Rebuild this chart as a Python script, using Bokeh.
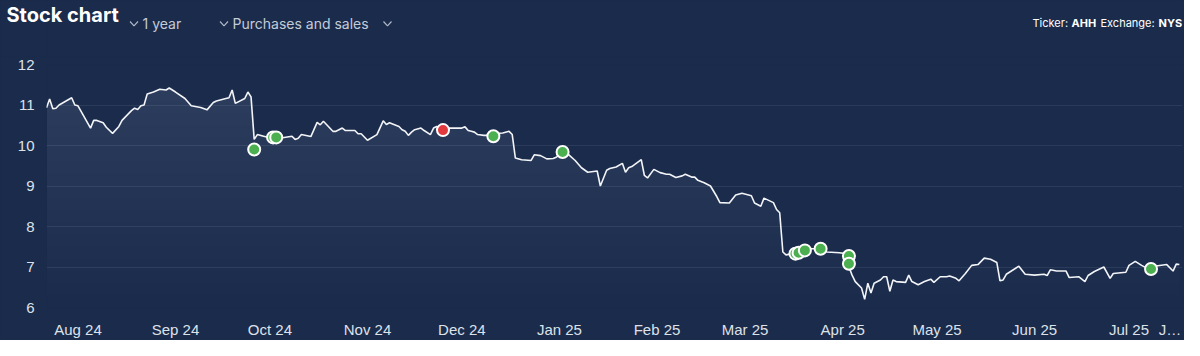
import re
import numpy as np
import pandas as pd
from bokeh.plotting import figure
from bokeh.layouts import column
from bokeh.models import Range1d, FixedTicker, ColumnDataSource
from bokeh.core.properties import value
from bokeh.embed import file_html
from bokeh.resources import INLINE

# ---------------- data ----------------
dates = [
    "2024-07-22", "2024-07-23", "2024-07-24", "2024-07-25", "2024-07-26", "2024-07-30", "2024-07-31",
    "2024-08-01", "2024-08-05", "2024-08-06", "2024-08-07", "2024-08-09", "2024-08-10", "2024-08-12",
    "2024-08-14", "2024-08-15", "2024-08-18", "2024-08-19", "2024-08-20", "2024-08-21", "2024-08-22",
    "2024-08-23", "2024-08-25", "2024-08-27", "2024-08-29", "2024-08-30", "2024-09-01", "2024-09-04",
    "2024-09-06", "2024-09-09", "2024-09-11", "2024-09-13", "2024-09-14", "2024-09-17", "2024-09-18",
    "2024-09-19", "2024-09-20", "2024-09-23", "2024-09-24", "2024-09-25", "2024-09-26", "2024-09-27",
    "2024-09-29", "2024-10-01", "2024-10-03", "2024-10-05", "2024-10-08", "2024-10-09", "2024-10-10",
    "2024-10-11", "2024-10-14", "2024-10-16", "2024-10-17", "2024-10-18", "2024-10-21", "2024-10-22",
    "2024-10-24", "2024-10-25", "2024-10-28", "2024-10-29", "2024-10-30", "2024-11-01", "2024-11-04",
    "2024-11-06", "2024-11-07", "2024-11-08", "2024-11-11", "2024-11-12", "2024-11-13", "2024-11-14",
    "2024-11-15", "2024-11-16", "2024-11-18", "2024-11-19", "2024-11-21", "2024-11-22", "2024-11-23",
    "2024-11-25", "2024-11-27", "2024-12-01", "2024-12-02", "2024-12-03", "2024-12-04", "2024-12-05",
    "2024-12-06", "2024-12-08", "2024-12-10", "2024-12-11", "2024-12-12", "2024-12-14", "2024-12-16",
    "2024-12-17", "2024-12-18", "2024-12-20", "2024-12-23", "2024-12-24", "2024-12-26", "2024-12-28",
    "2024-12-30", "2024-12-31", "2025-01-02", "2025-01-04", "2025-01-06", "2025-01-08", "2025-01-10",
    "2025-01-13", "2025-01-14", "2025-01-16", "2025-01-17", "2025-01-19", "2025-01-21", "2025-01-22",
    "2025-01-23", "2025-01-24", "2025-01-27", "2025-01-28", "2025-01-29", "2025-01-31", "2025-02-02",
    "2025-02-04", "2025-02-05", "2025-02-07", "2025-02-09", "2025-02-10", "2025-02-12", "2025-02-13",
    "2025-02-14", "2025-02-16", "2025-02-18", "2025-02-20", "2025-02-21", "2025-02-24", "2025-02-26",
    "2025-02-28", "2025-03-03", "2025-03-04", "2025-03-06", "2025-03-07", "2025-03-10", "2025-03-11",
    "2025-03-12", "2025-03-13", "2025-03-14", "2025-03-16", "2025-03-17", "2025-03-18", "2025-03-20",
    "2025-03-21", "2025-03-23", "2025-03-25", "2025-03-27", "2025-03-31", "2025-04-02", "2025-04-03",
    "2025-04-04", "2025-04-05", "2025-04-07", "2025-04-08", "2025-04-09", "2025-04-10", "2025-04-11",
    "2025-04-13", "2025-04-14", "2025-04-15", "2025-04-16", "2025-04-17", "2025-04-18", "2025-04-21",
    "2025-04-22", "2025-04-23", "2025-04-25", "2025-04-27", "2025-04-29", "2025-04-30", "2025-05-02",
    "2025-05-04", "2025-05-05", "2025-05-07", "2025-05-08", "2025-05-10", "2025-05-12", "2025-05-14",
    "2025-05-16", "2025-05-18", "2025-05-20", "2025-05-21", "2025-05-22", "2025-05-23", "2025-05-27",
    "2025-05-29", "2025-06-01", "2025-06-04", "2025-06-05", "2025-06-06", "2025-06-08", "2025-06-11",
    "2025-06-12", "2025-06-15", "2025-06-17", "2025-06-18", "2025-06-20", "2025-06-23", "2025-06-25",
    "2025-06-26", "2025-06-30", "2025-07-01", "2025-07-03", "2025-07-05", "2025-07-07", "2025-07-08",
    "2025-07-09", "2025-07-13", "2025-07-15", "2025-07-16", "2025-07-17",
]
prices = [
    10.93, 11.15, 10.91, 10.92, 11.00, 11.18, 11.00,
    10.98, 10.43, 10.62, 10.62, 10.56, 10.45, 10.30,
    10.47, 10.62, 10.86, 10.92, 10.89, 10.98, 11.00,
    11.27, 11.32, 11.39, 11.37, 11.42, 11.32, 11.16,
    10.98, 10.94, 10.88, 11.06, 11.10, 11.16, 11.18,
    11.37, 11.04, 11.16, 11.32, 11.20, 10.15, 10.27,
    10.23, 10.19, 10.19, 10.19, 10.23, 10.15, 10.18,
    10.27, 10.22, 10.57, 10.51, 10.60, 10.35, 10.35,
    10.43, 10.37, 10.37, 10.29, 10.29, 10.13, 10.27,
    10.61, 10.52, 10.56, 10.47, 10.39, 10.35, 10.25,
    10.33, 10.39, 10.43, 10.37, 10.27, 10.43, 10.47,
    10.38, 10.43, 10.43, 10.46, 10.37, 10.35, 10.33,
    10.27, 10.25, 10.25, 10.23, 10.30, 10.31, 10.35,
    10.27, 9.69, 9.65, 9.63, 9.77, 9.75, 9.67,
    9.68, 9.71, 9.84, 9.77, 9.63, 9.45, 9.34,
    9.37, 9.00, 9.39, 9.43, 9.47, 9.56, 9.34,
    9.45, 9.48, 9.65, 9.26, 9.20, 9.41, 9.33,
    9.29, 9.29, 9.21, 9.25, 9.29, 9.22, 9.22,
    9.14, 9.08, 9.00, 8.74, 8.59, 8.58, 8.78,
    8.82, 8.76, 8.58, 8.50, 8.70, 8.59, 8.42,
    8.34, 7.37, 7.30, 7.33, 7.33, 7.35, 7.42,
    7.45, 7.45, 7.43, 7.37, 7.35, 7.33, 7.00,
    6.80, 6.64, 6.48, 6.20, 6.60, 6.36, 6.60,
    6.68, 6.76, 6.76, 6.40, 6.68, 6.64, 6.62,
    6.80, 6.64, 6.56, 6.64, 6.70, 6.62, 6.76,
    6.76, 6.78, 6.72, 6.66, 6.84, 7.04, 7.06,
    7.22, 7.19, 7.11, 6.66, 6.68, 6.82, 7.02,
    6.82, 6.80, 6.82, 6.79, 6.93, 6.90, 6.90,
    6.74, 6.76, 6.64, 6.79, 6.89, 7.00, 6.72,
    6.84, 6.87, 7.04, 7.14, 7.04, 6.96, 6.95,
    7.02, 7.06, 6.90, 7.07, 7.06,
]

buy_dates = ["2024-09-26", "2024-10-02", "2024-10-03", "2024-12-11", "2025-01-02",
             "2025-03-17", "2025-03-18", "2025-03-20", "2025-03-25",
             "2025-04-03", "2025-04-03", "2025-07-08"]
buy_prices = [9.90, 10.20, 10.20, 10.23, 9.84, 7.33, 7.35, 7.41, 7.45, 7.27, 7.08, 6.95]
sell_dates = ["2024-11-25"]
sell_prices = [10.38]

tick_dates = ["2024-08-01", "2024-09-01", "2024-10-01", "2024-11-01", "2024-12-01", "2025-01-01",
              "2025-02-01", "2025-03-01", "2025-04-01", "2025-05-01", "2025-06-01", "2025-07-01",
              "2025-07-14"]
tick_labels = ["Aug 24", "Sep 24", "Oct 24", "Nov 24", "Dec 24", "Jan 25",
               "Feb 25", "Mar 25", "Apr 25", "May 25", "Jun 25", "Jul 25", "J\u2026"]
y_ticks = [6, 7, 8, 9, 10, 11, 12]

title_text = "Stock chart"
period_text = "1 year"
mode_text = "Purchases and sales"
ticker_parts = ["Ticker:", "AHH", "Exchange:", "NYS"]
ticker_styles = ["normal", "bold", "normal", "bold"]

# ---------------- styling ----------------
BG = "#1b2b4b"
GRID = "#2b3b5a"
LABEL = "#dde2ea"
SUB = "#c3cbd8"
GREEN = "#4caf50"
RED = "#e03a3e"


def ms(s):
    return pd.Timestamp(s).value / 1e6


W = 1184
HH = 56            # header height
H = 284            # chart height
FL, FR = 46, 1182  # frame left/right (shared by both figures)
FT, FB = 8, 256    # chart frame top/bottom
HT = 0             # header frame top

# ---------------- header ----------------
hdr = figure(width=W, height=HH, output_backend="svg", toolbar_location=None,
             x_axis_type=None, y_axis_type=None,
             x_range=Range1d(FL, FR), y_range=Range1d(HH, HT),
             min_border_left=FL, min_border_right=W - FR, min_border_top=HT, min_border_bottom=0,
             background_fill_color=BG, border_fill_color=BG, outline_line_color=None)
hdr.grid.visible = False
hdr.title.text = title_text
hdr.title.text_font = "Inter"
hdr.title.text_font_size = "20px"
hdr.title.text_font_style = "bold"
hdr.title.text_color = "white"
hdr.title.align = "left"
hdr.title.offset = 6 - FL
hdr.title.standoff = -52
hdr.styles = {"background-color": BG}

hdr.text(x=[142, 232], y=[22.5, 22.5], text=[period_text, mode_text], text_font=value("Inter"),
         text_font_size="14px", text_color=SUB, text_baseline="middle", text_align="left")
chev_x = [133.5, 223.5, 387]
hdr.multi_line(xs=[[c - 4, c, c + 4] for c in chev_x], ys=[[21, 25.3, 21] for _ in chev_x],
               line_color="#aeb8c8", line_width=1.2)
for txt, style, fx in zip(ticker_parts, ticker_styles, (1032, 1071, 1100, 1158)):
    hdr.text(x=[fx], y=[22], text=[txt], text_font=value("Inter"), text_font_size="11px",
             text_font_style=style, text_color="white", text_baseline="middle", text_align="left")

# ---------------- chart ----------------
x = [ms(d) for d in dates]
x0, x1 = ms("2024-07-22"), ms("2025-07-18")

p = figure(width=W, height=H, output_backend="svg", toolbar_location=None,
           x_range=Range1d(x0, x1), y_range=Range1d(6, 12),
           min_border_left=FL, min_border_right=W - FR, min_border_top=FT, min_border_bottom=H - FB,
           background_fill_color=BG, border_fill_color=BG, outline_line_color=None)
p.styles = {"background-color": BG}

# gradient-like fill under the line
pr = np.array(prices)
for t in np.arange(6.3, 11.45, 0.3):
    p.varea(x=x, y1=np.full(len(x), t), y2=np.maximum(pr, t), fill_color="white", fill_alpha=0.0065)

p.line(x, prices, line_color="#f2f4f7", line_width=1.6)

buy_src = ColumnDataSource(dict(x=[ms(d) for d in buy_dates], y=buy_prices))
sell_src = ColumnDataSource(dict(x=[ms(d) for d in sell_dates], y=sell_prices))
p.scatter("x", "y", source=buy_src, size=12, fill_color=GREEN, line_color="white", line_width=2)
p.scatter("x", "y", source=sell_src, size=12, fill_color=RED, line_color="white", line_width=2)

p.xgrid.grid_line_color = None
p.ygrid.grid_line_color = GRID
p.ygrid.grid_line_width = 1

tick_ms = [ms(d) for d in tick_dates]
p.xaxis.ticker = FixedTicker(ticks=tick_ms)
p.xaxis.major_label_overrides = {t: l for t, l in zip(tick_ms, tick_labels)}
p.yaxis.ticker = FixedTicker(ticks=y_ticks)
p.ygrid.ticker = FixedTicker(ticks=y_ticks)

for ax in (p.xaxis, p.yaxis):
    ax.axis_line_color = None
    ax.major_tick_line_color = None
    ax.minor_tick_line_color = None
    ax.major_tick_out = 0
    ax.major_tick_in = 0
    ax.minor_tick_out = 0
    ax.major_label_text_color = LABEL
    ax.major_label_text_font = "Liberation Sans"
    ax.major_label_text_font_size = "15px"
p.xaxis.major_label_standoff = 13
p.yaxis.major_label_standoff = 12

layout = column(hdr, p, spacing=0)
layout.styles = {"background-color": BG}
html = file_html(layout, INLINE)
html = re.sub(r"<body([^>]*)>", r'<body\1 style="background-color:%s;">' % BG, html, count=1)
open("out.html", "w").write(html)
